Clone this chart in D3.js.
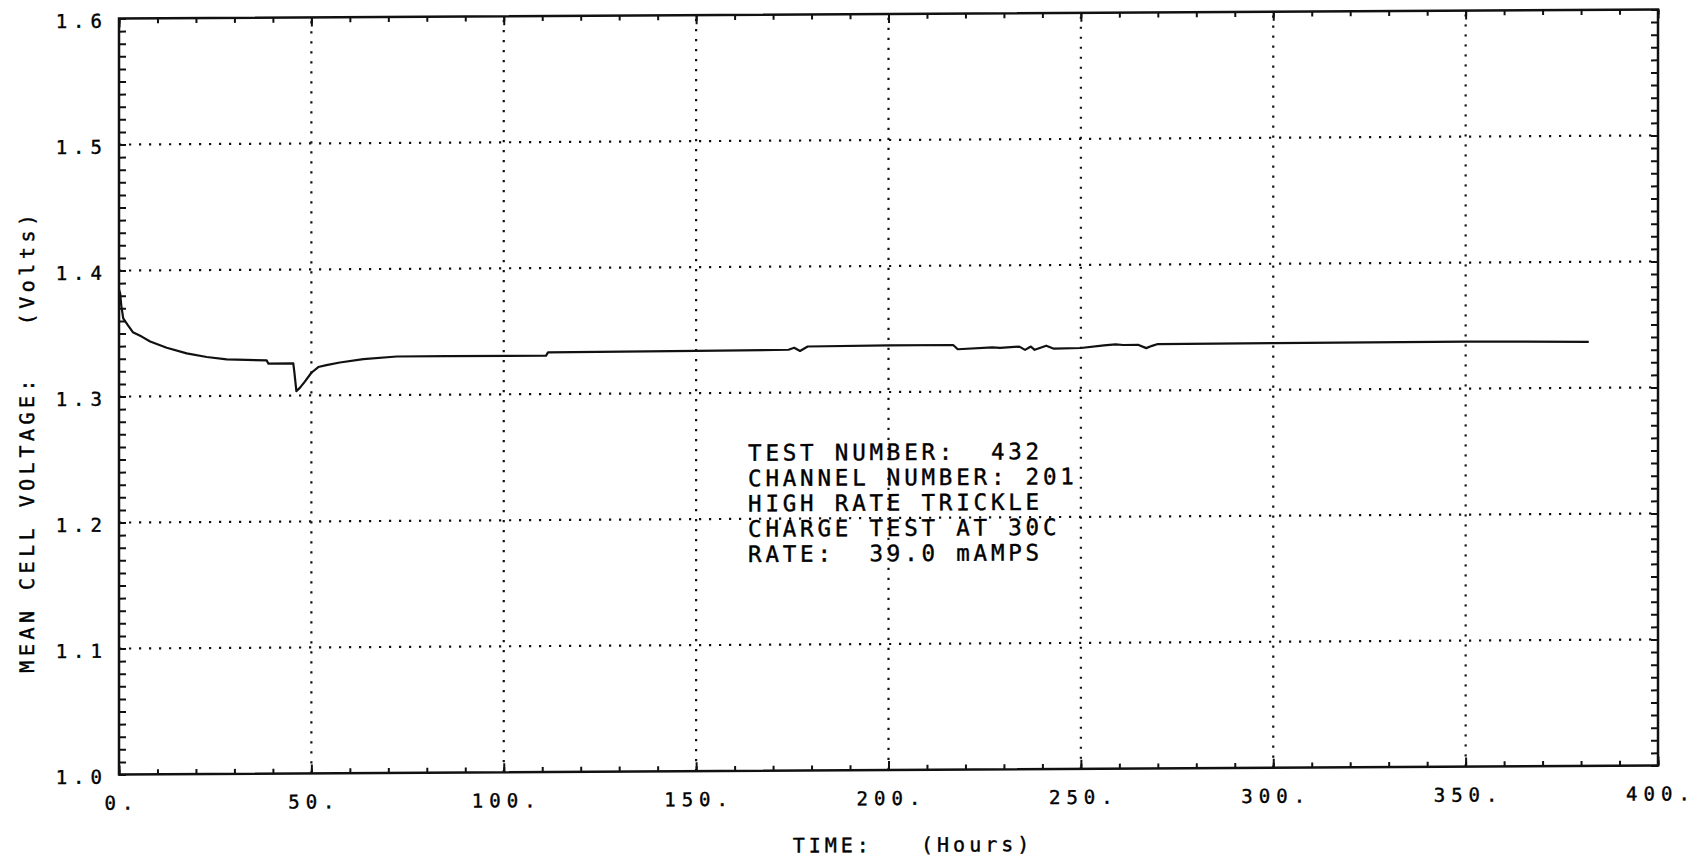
<!DOCTYPE html>
<html>
<head>
  <meta charset="utf-8">
  <script src="https://d3js.org/d3.v7.min.js"></script>
  <style>
  body {
    margin: 0;
    background: #fff;
  }
  text {
    font-family: "DejaVu Sans Mono", monospace;
    fill: #000;
    stroke: #000;
    stroke-width: 0.4px;
    white-space: pre;
  }
  .tick line {
    stroke: #111;
    stroke-width: 2;
  }
  .domain {
    display: none;
  }
</style>
</head>
<body>
<script>

  // time in hours, mean cell voltage in volts
  var hours = [0, 0.3, 0.6, 1.1, 2.2, 3.6, 5.9, 8.1, 12.4, 17.6, 22.8, 28, 38.4, 38.8, 45.3, 45.6, 46.1, 47,
    48.3, 50, 51.8, 53.9, 57.4, 63.5, 72.2, 85.2, 111, 111.5, 150, 174, 175.5, 177, 179, 200, 216.8, 218,
    227, 229, 234, 235.5, 237, 238, 241, 243, 250, 256, 259, 261, 265, 267, 268.5, 270, 300, 350, 382];
  var volts = [1.385, 1.382, 1.372, 1.362, 1.357, 1.351, 1.3475, 1.3435, 1.3385, 1.334, 1.331, 1.329, 1.328,
    1.3255, 1.3255, 1.318, 1.3035, 1.306, 1.311, 1.318, 1.3225, 1.324, 1.326, 1.3285, 1.3305, 1.3305, 1.3305,
    1.333, 1.3335, 1.334, 1.3355, 1.333, 1.3365, 1.337, 1.337, 1.3336, 1.335, 1.3345, 1.3354, 1.3328, 1.3354,
    1.3328, 1.336, 1.3336, 1.334, 1.336, 1.3368, 1.3362, 1.3362, 1.3336, 1.3354, 1.3368, 1.337, 1.3373, 1.3365];

  var xTicks = [0, 50, 100, 150, 200, 250, 300, 350, 400];
  var xTickLabels = ["0.", "50.", "100.", "150.", "200.", "250.", "300.", "350.", "400."];
  var yTicks = [1.0, 1.1, 1.2, 1.3, 1.4, 1.5, 1.6];
  var yTickLabels = ["1.0", "1.1", "1.2", "1.3", "1.4", "1.5", "1.6"];

  var noteLines = ["TEST NUMBER:  432", "CHANNEL NUMBER: 201", "HIGH RATE TRICKLE",
    "CHARGE TEST AT 30C", "RATE:  39.0 mAMPS"];

  var width = 1695, height = 860;
  var cx = 888.5, cy = 392;

  var svg = d3.select("body").append("svg")
    .attr("width", width)
    .attr("height", height);

  svg.append("rect").attr("width", width).attr("height", height).attr("fill", "#fff");

  // the scanned plot is slightly skewed
  var g = svg.append("g")
    .attr("transform", "translate(" + cx + "," + cy + ") skewY(-0.34) translate(" + (-cx) + "," + (-cy) + ")");

  var x = d3.scaleLinear().domain([0, 400]).range([119, 1658]);
  var y = d3.scaleLinear().domain([1.0, 1.6]).range([770, 14]);

  var xMinor = d3.range(0, 401, 10);
  var yMinor = d3.range(0, 61).map(i => +(1 + i * 0.01).toFixed(2));

  // dotted grid
  g.append("g").selectAll("line")
    .data(xTicks.slice(1, -1))
    .join("line")
    .attr("x1", d => x(d)).attr("x2", d => x(d))
    .attr("y1", y(1.0)).attr("y2", y(1.6))
    .attr("stroke", "#111").attr("stroke-width", 2.2).attr("stroke-dasharray", "2.2,7.8");

  g.append("g").selectAll("line")
    .data(yTicks.slice(1, -1))
    .join("line")
    .attr("x1", x(0)).attr("x2", x(400))
    .attr("y1", d => y(d)).attr("y2", d => y(d))
    .attr("stroke", "#111").attr("stroke-width", 2.2).attr("stroke-dasharray", "2.2,7.8");

  // inward ticks on all four sides
  g.append("g").attr("transform", "translate(0," + y(1.0) + ")")
    .call(d3.axisTop(x).tickValues(xMinor).tickSize(5).tickFormat(""));
  g.append("g").attr("transform", "translate(0," + y(1.0) + ")")
    .call(d3.axisTop(x).tickValues(xTicks).tickSize(9).tickFormat(""));
  g.append("g").attr("transform", "translate(0," + y(1.6) + ")")
    .call(d3.axisBottom(x).tickValues(xMinor).tickSize(5).tickFormat(""));
  g.append("g").attr("transform", "translate(0," + y(1.6) + ")")
    .call(d3.axisBottom(x).tickValues(xTicks).tickSize(9).tickFormat(""));
  g.append("g").attr("transform", "translate(" + x(0) + ",0)")
    .call(d3.axisRight(y).tickValues(yMinor).tickSize(7).tickFormat(""));
  g.append("g").attr("transform", "translate(" + x(400) + ",0)")
    .call(d3.axisLeft(y).tickValues(yMinor).tickSize(7).tickFormat(""));

  // frame
  g.append("rect")
    .attr("x", x(0)).attr("y", y(1.6))
    .attr("width", x(400) - x(0)).attr("height", y(1.0) - y(1.6))
    .attr("fill", "none").attr("stroke", "#111").attr("stroke-width", 2.5);

  // tick labels
  g.append("g").selectAll("text")
    .data(xTicks)
    .join("text")
    .attr("x", d => x(d) + 3)
    .attr("y", y(1.0) + 35)
    .attr("text-anchor", "middle")
    .style("font-size", "19px")
    .style("letter-spacing", "6px")
    .text((d, i) => xTickLabels[i]);

  g.append("g").selectAll("text")
    .data(yTicks)
    .join("text")
    .attr("x", x(0) - 11)
    .attr("y", d => y(d) + 9)
    .attr("text-anchor", "end")
    .style("font-size", "19px")
    .style("letter-spacing", "6px")
    .text((d, i) => yTickLabels[i]);

  // axis titles
  g.append("text")
    .attr("x", 913)
    .attr("y", 852)
    .attr("text-anchor", "middle")
    .style("font-size", "20px")
    .style("letter-spacing", "4px")
    .text("TIME:   (Hours)");

  g.append("text")
    .attr("transform", "translate(34,436) rotate(-90)")
    .attr("text-anchor", "middle")
    .style("font-size", "20px")
    .style("letter-spacing", "4.5px")
    .text("MEAN CELL VOLTAGE:   (Volts)");

  // the voltage curve
  var line = d3.line()
    .x(d => x(d[0]))
    .y(d => y(d[1]));

  g.append("path")
    .datum(d3.zip(hours, volts))
    .attr("fill", "none")
    .attr("stroke", "#111")
    .attr("stroke-width", 2.2)
    .attr("stroke-linejoin", "round")
    .attr("d", line);

  // test notes
  g.append("g").selectAll("text")
    .data(noteLines)
    .join("text")
    .attr("x", x(163.5))
    .attr("y", (d, i) => 460 + i * 25.3)
    .style("font-size", "22.5px")
    .style("letter-spacing", "3.8px")
    .text(d => d);

</script>
</body>
</html>
